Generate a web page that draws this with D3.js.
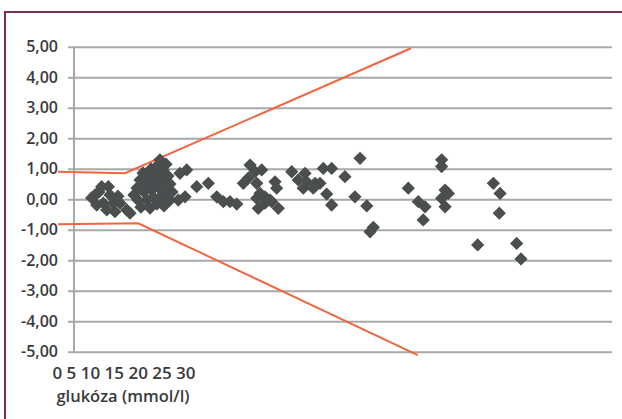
<!DOCTYPE html>
<html>
<head>
<meta charset="utf-8">
<script src="https://cdn.jsdelivr.net/npm/d3@7"></script>
<style>
  html, body { margin: 0; padding: 0; background: #fff; }
  svg { display: block; }
  text { font-family: "Open Sans", sans-serif; fill: #3a3a3a; }
</style>
</head>
<body>
<svg id="chart" width="622" height="419"></svg>
<script>
// Glucose (mmol/l) on x, difference on y
const glucose = [
  1.18, 1.41, 1.85, 2.30, 2.41, 1.52, 1.96, 2.63, 3.08, 3.53, 3.75, 2.19, 2.74, 1.67, 2.94,
  4.01, 4.22, 4.28, 4.42, 4.48, 4.62, 4.68, 4.82, 4.88, 5.02, 5.09, 5.15, 5.22, 5.29, 5.42,
  5.49, 5.55, 5.62, 5.69, 5.75, 5.82, 5.89, 5.96, 6.02, 6.09, 6.16, 6.22, 6.29, 6.42, 6.42, 6.56,
  7.09, 7.54, 6.98, 7.43, 8.21, 8.99, 9.55, 9.99, 10.44, 10.89,
  11.78, 12.11, 12.56, 11.33, 11.66, 12.23, 12.45, 12.78, 13.45, 13.56, 13.23, 12.33, 13.67, 12.78, 12.23, 13.12,
  14.57, 15.01, 15.46, 15.57, 16.13, 16.01, 15.34, 16.68, 17.24, 16.46, 16.91, 17.24, 18.13, 19.14, 18.80, 19.59, 20.03, 19.81,
  22.37, 23.04, 23.49, 23.37, 24.60, 24.60, 24.83, 24.60, 24.83, 25.05,
  27.01, 28.06, 28.51, 28.46, 29.62, 29.91
];
const difference = [
  0.04, 0.14, 0.41, 0.41, 0.14, -0.19, -0.13, -0.13, -0.13, -0.35, -0.46, -0.35, -0.41, 0.24, 0.10,
  0.14, 0.37, -0.03, 0.63, -0.26, 0.86, 0.24, 0.50, -0.03, 0.73, -0.29, 0.99, 0.30, 0.07, 0.56,
  0.83, -0.16, 1.12, 0.37, 1.29, 0.10, 0.66, 0.96, -0.22, 0.43, 1.15, 0.17, 0.76, 0.50, -0.03, 0.24,
  0.85, 0.96, -0.03, 0.08, 0.41, 0.52, 0.08, -0.08, -0.08, -0.16,
  1.12, 0.90, 0.96, 0.52, 0.69, 0.52, 0.19, 0.08, 0.57, 0.36, -0.08, -0.30, -0.30, -0.13, 0.03, -0.03,
  0.90, 0.63, 0.85, 0.57, 0.52, 0.36, 0.36, 1.01, 1.01, 0.52, 0.17, -0.19, 0.74, 1.34, 0.08, -0.22, -0.92, -1.07,
  0.36, -0.08, -0.25, -0.68, 1.29, 1.07, 0.30, 0.03, -0.25, 0.19,
  -1.50, 0.52, 0.19, -0.46, -1.45, -1.96
];

// Acceptance limits
const upperLimitX = [-1.07, 3.41, 22.55];
const upperLimitY = [0.90, 0.85, 4.95];
const lowerLimitX = [-1.07, 4.30, 23.00];
const lowerLimitY = [-0.82, -0.79, -5.11];

const yTicks = [5, 4, 3, 2, 1, 0, -1, -2, -3, -4, -5];
const xTickLabels = ["0", "5", "10", "15", "20", "25", "30"];
const xTitle = "glukóza (mmol/l)";

const svg = d3.select("#chart");

const x = d3.scaleLinear().domain([0, 36]).range([74, 612]);
const y = d3.scaleLinear().domain([-5, 5]).range([351.7, 46.7]);

const locale = d3.formatLocale({ decimal: ",", thousands: " ", grouping: [3], currency: ["", ""], minus: "-" });
const fmt = locale.format(".2f");

// outer frame (left and top edges)
svg.append("path")
  .attr("d", "M5,419 V12 H622")
  .attr("fill", "none")
  .attr("stroke", "#7b2d5e")
  .attr("stroke-width", 2);

// horizontal gridlines with tick labels
const yAxis = d3.axisLeft(y)
  .tickValues(yTicks)
  .tickFormat(fmt)
  .tickSize(-(612 - 68))
  .tickPadding(10);

const gy = svg.append("g")
  .attr("transform", "translate(68,0)")
  .call(yAxis);
gy.select(".domain").remove();
gy.selectAll(".tick line")
  .attr("stroke", "#a8a8a8")
  .attr("stroke-width", 2);
gy.selectAll(".tick text")
  .attr("x", -10)
  .style("font-family", "'Open Sans', sans-serif")
  .style("font-size", "16px")
  .style("font-weight", "600")
  .attr("fill", "#3a3a3a");

// vertical axis line
svg.append("line")
  .attr("x1", x(0)).attr("x2", x(0))
  .attr("y1", y(5)).attr("y2", y(-5))
  .attr("stroke", "#a8a8a8")
  .attr("stroke-width", 2);

// limit lines
const line = d3.line().x(d => x(d[0])).y(d => y(d[1]));
const limits = [
  d3.zip(upperLimitX, upperLimitY),
  d3.zip(lowerLimitX, lowerLimitY)
];
svg.selectAll("path.limit")
  .data(limits)
  .join("path")
  .attr("class", "limit")
  .attr("d", line)
  .attr("fill", "none")
  .attr("stroke", "#f0663f")
  .attr("stroke-width", 2);

// scatter points (diamonds)
const diamond = d3.symbol().type(d3.symbolSquare).size(88);
svg.append("g")
  .selectAll("path")
  .data(d3.zip(glucose, difference))
  .join("path")
  .attr("d", diamond)
  .attr("transform", d => `translate(${x(d[0])},${y(d[1])}) rotate(45)`)
  .attr("fill", "#4b4e4f");

// x tick labels and axis title
svg.append("text")
  .attr("x", 124)
  .attr("y", 379)
  .attr("text-anchor", "middle")
  .style("font-size", "17px")
  .style("font-weight", "600")
  .text(xTickLabels.join(" "));

svg.append("text")
  .attr("x", 123)
  .attr("y", 402)
  .attr("text-anchor", "middle")
  .style("font-size", "16.5px")
  .style("font-weight", "600")
  .text(xTitle);
</script>
</body>
</html>
